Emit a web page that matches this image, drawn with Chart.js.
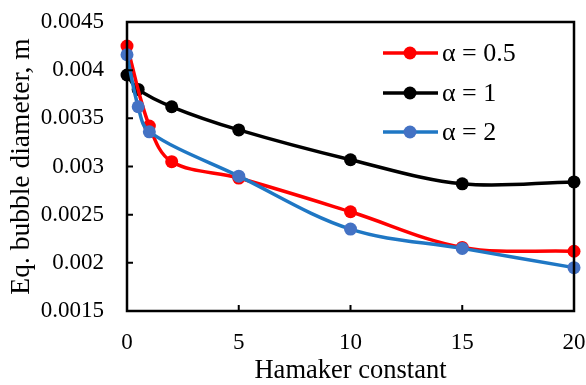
<!DOCTYPE html>
<html>
<head>
<meta charset="utf-8">
<script src="https://cdn.jsdelivr.net/npm/chart.js@4/dist/chart.umd.min.js"></script>
<style>
  html, body { margin: 0; padding: 0; background: #fff; }
  #wrap { width: 586px; height: 385px; }
</style>
</head>
<body>
<div id="wrap"><canvas id="myChart" width="586" height="385"></canvas></div>
<script>
// data
const seriesNames = ['\u03b1 = 0.5', '\u03b1 = 1', '\u03b1 = 2'];

const xRed   = [0, 1, 2, 5, 10, 15, 20];
const yRed   = [0.00425, 0.00342, 0.00305, 0.00288, 0.00253, 0.00216, 0.00212];

const xBlack = [0, 0.5, 2, 5, 10, 15, 20];
const yBlack = [0.00395, 0.00380, 0.00362, 0.00338, 0.00307, 0.00282, 0.00284];

const xBlue  = [0, 0.5, 1, 5, 10, 15, 20];
const yBlue  = [0.00416, 0.00362, 0.00336, 0.00290, 0.00235, 0.00215, 0.00195];

const xTicks = [0, 5, 10, 15, 20];
const yTicks = [0.0015, 0.002, 0.0025, 0.003, 0.0035, 0.004, 0.0045];

const toPoints = (xs, ys) => xs.map((x, i) => ({ x: x, y: ys[i] }));
const serif = "'Liberation Serif', 'Times New Roman', serif";

// setup
const data = {
  datasets: [{
    label: seriesNames[0],
    data: toPoints(xRed, yRed),
    borderColor: '#ff0000',
    backgroundColor: '#ff0000',
    order: 2,
  }, {
    label: seriesNames[1],
    data: toPoints(xBlack, yBlack),
    borderColor: '#000000',
    backgroundColor: '#000000',
    order: 3,
  }, {
    label: seriesNames[2],
    data: toPoints(xBlue, yBlue),
    borderColor: '#1f77c4',
    backgroundColor: '#4472c4',
    order: 1,
  }]
};

// box round the plot, ticks pointing inward, legend inside
const framePlugin = {
  id: 'frame',
  afterDraw(chart) {
    const { ctx, chartArea: a, scales } = chart;
    ctx.save();
    ctx.strokeStyle = '#000';
    ctx.lineWidth = 2.5;
    ctx.strokeRect(a.left, a.top, a.right - a.left, a.bottom - a.top);
    ctx.lineWidth = 2;
    ctx.beginPath();
    xTicks.forEach(v => {
      const px = scales.x.getPixelForValue(v);
      ctx.moveTo(px, a.bottom);
      ctx.lineTo(px, a.bottom - 6);
    });
    yTicks.forEach(v => {
      const py = scales.y.getPixelForValue(v);
      ctx.moveTo(a.left, py);
      ctx.lineTo(a.left + 6, py);
    });
    ctx.stroke();

    // legend
    ctx.font = '26px ' + serif;
    ctx.textBaseline = 'middle';
    ctx.textAlign = 'left';
    const rows = [53, 93, 132];
    chart.data.datasets.forEach((ds, i) => {
      const y = rows[i];
      ctx.strokeStyle = ds.borderColor;
      ctx.lineWidth = 3.5;
      ctx.beginPath();
      ctx.moveTo(383, y);
      ctx.lineTo(438, y);
      ctx.stroke();
      ctx.fillStyle = ds.backgroundColor;
      ctx.beginPath();
      ctx.arc(410, y, 6.5, 0, Math.PI * 2);
      ctx.fill();
      ctx.fillStyle = '#000';
      ctx.fillText(ds.label, 442, y + 1);
    });
    ctx.restore();
  }
};

// config
const config = {
  type: 'line',
  data,
  options: {
    responsive: false,
    animation: false,
    layout: { padding: { top: 22, right: 12, left: 0, bottom: 0 } },
    elements: {
      line: { borderWidth: 3.5, tension: 0.35 },
      point: { radius: 6.5, borderWidth: 0, hoverRadius: 6.5 }
    },
    datasets: { line: { clip: false } },
    plugins: {
      legend: { display: false },
      tooltip: { enabled: false }
    },
    scales: {
      x: {
        type: 'linear',
        min: 0,
        max: 20,
        afterFit: s => { s.height = 74; s.paddingLeft = 0; s.paddingRight = 0; },
        afterBuildTicks: s => { s.ticks = xTicks.map(v => ({ value: v })); },
        grid: { display: false, drawTicks: false },
        border: { display: false },
        ticks: {
          padding: 18,
          maxRotation: 0,
          color: '#000',
          font: { family: serif, size: 23 }
        },
        title: {
          display: true,
          text: 'Hamaker constant',
          color: '#000',
          font: { family: serif, size: 26.5, lineHeight: 1.05 },
          padding: { top: 0, bottom: 0 }
        }
      },
      y: {
        min: 0.0015,
        max: 0.0045,
        afterFit: s => { s.width = 127; s.paddingTop = 0; s.paddingBottom = 0; },
        afterBuildTicks: s => { s.ticks = yTicks.map(v => ({ value: v })); },
        grid: { display: false, drawTicks: false },
        border: { display: false },
        ticks: {
          padding: 23,
          color: '#000',
          font: { family: serif, size: 23 },
          callback: v => String(Number(v.toFixed(4)))
        },
        title: {
          display: true,
          text: 'Eq. bubble diameter, m',
          color: '#000',
          font: { family: serif, size: 27.5 },
          padding: { top: 5, bottom: 0 }
        }
      }
    }
  },
  plugins: [framePlugin]
};

// render init block
const myChart = new Chart(document.getElementById('myChart'), config);
</script>
</body>
</html>
